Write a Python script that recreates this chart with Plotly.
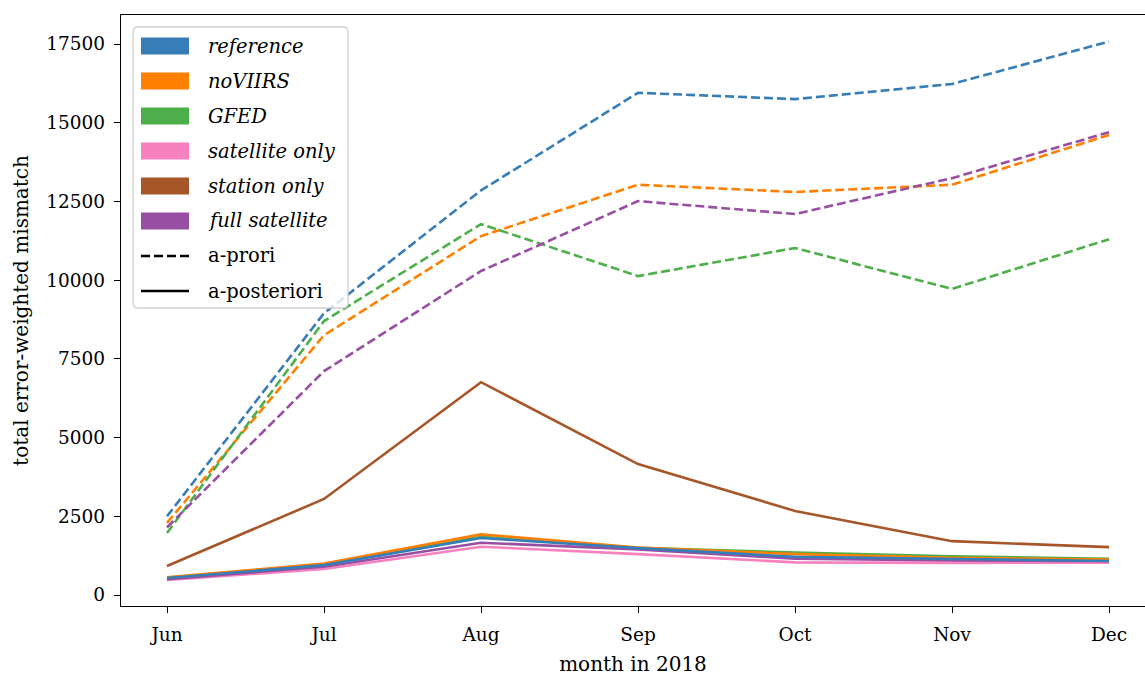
import plotly.graph_objects as go

months = ["Jun", "Jul", "Aug", "Sep", "Oct", "Nov", "Dec"]
series_names = ["reference", "noVIIRS", "GFED", "satellite only", "station only", "full satellite"]
colors = ["#377eb8", "#ff7f00", "#4daf4a", "#f781bf", "#a65628", "#984ea3"]
style_names = ["a-prori", "a-posteriori"]

# a-priori (dashed)
prior_reference = [2500, 8950, 12850, 15950, 15750, 16230, 17580]
prior_noVIIRS = [2290, 8250, 11400, 13030, 12800, 13030, 14610]
prior_GFED = [1970, 8700, 11780, 10130, 11020, 9720, 11300]
prior_full_satellite = [2150, 7110, 10290, 12510, 12100, 13240, 14700]

# a-posteriori (solid)
post_reference = [540, 950, 1810, 1490, 1210, 1140, 1080]
post_noVIIRS = [560, 1000, 1925, 1510, 1300, 1180, 1130]
post_GFED = [550, 980, 1850, 1500, 1350, 1230, 1150]
post_satellite_only = [476, 825, 1535, 1300, 1035, 1020, 1030]
post_station_only = [920, 3050, 6760, 4160, 2670, 1710, 1520]
post_full_satellite = [500, 900, 1660, 1450, 1150, 1100, 1080]

FONT = "DejaVu Serif"
W, H = 1145, 679
ML, MR, MT, MB = 121, 0, 15, 73
PW, PH = W - ML - MR, H - MT - MB

x = list(range(len(months)))
fig = go.Figure()

solid = [
    (post_station_only, colors[4]),
    (post_satellite_only, colors[3]),
    (post_full_satellite, colors[5]),
    (post_GFED, colors[2]),
    (post_noVIIRS, colors[1]),
    (post_reference, colors[0]),
]
for ys, c in solid:
    fig.add_trace(go.Scatter(x=x, y=ys, mode="lines", line=dict(color=c, width=2.6),
                             showlegend=False, hoverinfo="skip"))

dashed = [
    (prior_reference, colors[0]),
    (prior_noVIIRS, colors[1]),
    (prior_GFED, colors[2]),
    (prior_full_satellite, colors[5]),
]
for ys, c in dashed:
    fig.add_trace(go.Scatter(x=x, y=ys, mode="lines",
                             line=dict(color=c, width=2.6, dash="9px,4px"),
                             showlegend=False, hoverinfo="skip"))


# --- manual legend (pixel layout converted to paper coords) ---
def px(xp):
    return (xp - ML) / PW


def py(yp):
    return (H - MB - yp) / PH


bx0, bx1, by0, by1, r = 133, 348, 27, 308, 5
path = (f"M{px(bx0 + r)},{py(by0)} L{px(bx1 - r)},{py(by0)} Q{px(bx1)},{py(by0)} {px(bx1)},{py(by0 + r)} "
        f"L{px(bx1)},{py(by1 - r)} Q{px(bx1)},{py(by1)} {px(bx1 - r)},{py(by1)} "
        f"L{px(bx0 + r)},{py(by1)} Q{px(bx0)},{py(by1)} {px(bx0)},{py(by1 - r)} "
        f"L{px(bx0)},{py(by0 + r)} Q{px(bx0)},{py(by0)} {px(bx0 + r)},{py(by0)} Z")
shapes = [dict(type="path", xref="paper", yref="paper", path=path,
               line=dict(color="#d0d0d0", width=1.3), fillcolor="rgba(255,255,255,0.8)")]
annotations = []
row_y = [46, 81, 116, 151, 186, 221, 256, 291]
for i, (n, c) in enumerate(zip(series_names, colors)):
    yc = row_y[i]
    shapes.append(dict(type="rect", xref="paper", yref="paper",
                       x0=px(141), x1=px(189), y0=py(yc - 8.5), y1=py(yc + 8.5),
                       line=dict(width=0), fillcolor=c))
    annotations.append(dict(xref="paper", yref="paper", x=px(206), y=py(yc), xanchor="left",
                            yanchor="middle", showarrow=False, text="<i>" + n + "</i>",
                            font=dict(family=FONT, size=19.5, color="black")))
for j, (n, d) in enumerate(zip(style_names, ["9px,4px", "solid"])):
    yc = row_y[6 + j]
    shapes.append(dict(type="line", xref="paper", yref="paper",
                       x0=px(141), x1=px(189), y0=py(yc), y1=py(yc),
                       line=dict(color="black", width=2.6, dash=d)))
    annotations.append(dict(xref="paper", yref="paper", x=px(206), y=py(yc), xanchor="left",
                            yanchor="middle", showarrow=False, text=n,
                            font=dict(family=FONT, size=19.5, color="black")))

title_font = dict(family=FONT, size=20, color="black")
fig.update_layout(
    width=W, height=H,
    margin=dict(l=ML, r=MR, t=MT, b=MB),
    plot_bgcolor="white", paper_bgcolor="white",
    font=dict(family=FONT, size=18, color="black"),
    showlegend=False,
    shapes=shapes, annotations=annotations,
    xaxis=dict(range=[-0.293, 6.229], tickvals=x, ticktext=months, showgrid=False,
               zeroline=False, showline=True, linecolor="black", linewidth=1.3, mirror=True,
               ticks="outside", ticklen=6, tickcolor="black", ticklabelstandoff=6,
               tickfont=dict(family=FONT, size=18.5, color="black"),
               title=dict(text="month in 2018", standoff=12, font=title_font)),
    yaxis=dict(range=[-349, 18421], tickvals=[0, 2500, 5000, 7500, 10000, 12500, 15000, 17500],
               ticktext=["0", "2500", "5000", "7500", "10000", "12500", "15000", "17500"],
               showgrid=False, zeroline=False, showline=True, linecolor="black", linewidth=1.3,
               mirror=False, ticks="outside", ticklen=6, tickcolor="black", ticklabelstandoff=5,
               tickfont=dict(family=FONT, size=18.5, color="black"),
               title=dict(text="total error-weighted mismatch", standoff=12, font=title_font)),
)

fig.write_html("out.html")
